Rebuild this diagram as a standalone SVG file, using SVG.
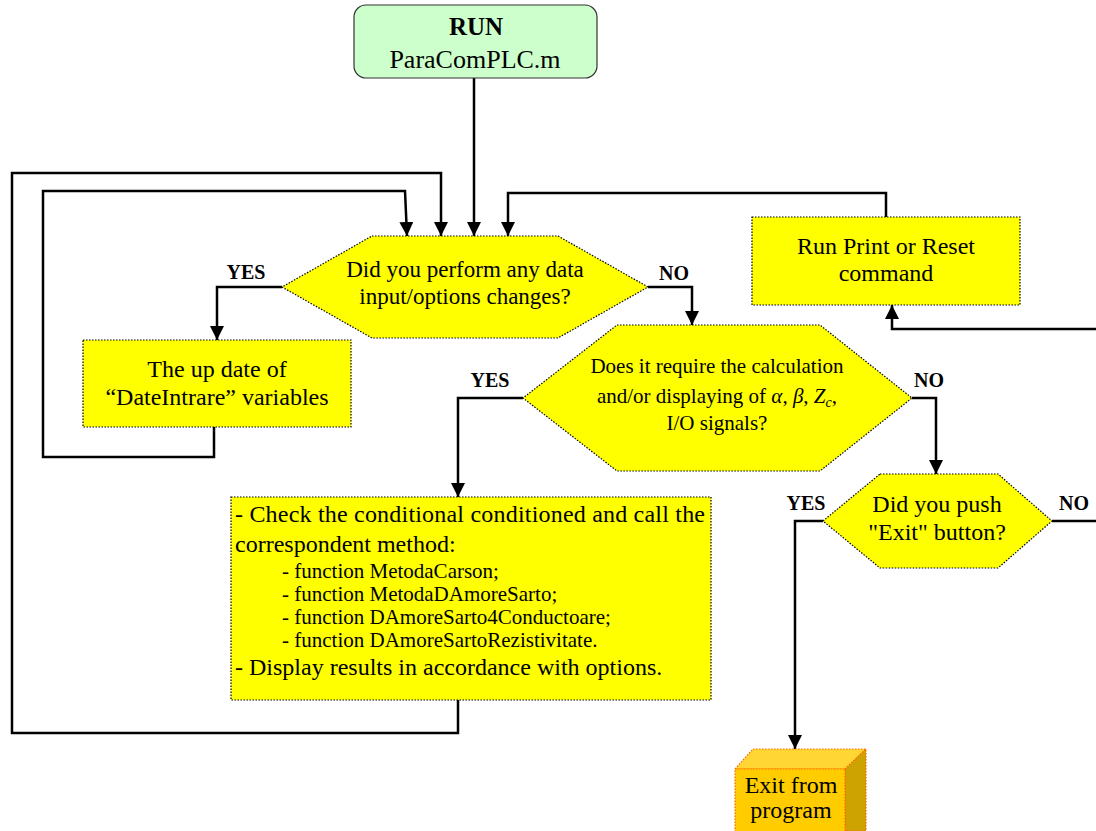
<svg xmlns="http://www.w3.org/2000/svg" width="1096" height="831" viewBox="0 0 1096 831">
<style>
text{font-family:"Liberation Serif","Times New Roman",serif;fill:#000}
.t{font-size:24px;text-anchor:middle}
.t23{font-size:23px;text-anchor:middle}
.t21{font-size:21px;text-anchor:middle}
.s{font-size:21px}
.l{font-size:20px;font-weight:bold;text-anchor:middle}
.y{fill:#FFFF00;stroke:#000;stroke-width:1.2;stroke-dasharray:1.5,1.5}
.c{fill:none;stroke:#000;stroke-width:2.5}
</style>
<defs>
<marker id="ah" viewBox="0 0 14 14" refX="14" refY="7" markerWidth="14" markerHeight="14" orient="auto" markerUnits="userSpaceOnUse"><path d="M0,0 L14,7 L0,14 z" fill="#000"/></marker>
</defs>
<rect width="1096" height="831" fill="#fff"/>
<g id="connectors">
<path class="c" d="M474,78 V236" marker-end="url(#ah)"/>
<path class="c" d="M458,700 V733 H12 V173 H441 V236" marker-end="url(#ah)"/>
<path class="c" d="M214,427 V457 H43 V191 H405 L407,236" marker-end="url(#ah)"/>
<path class="c" d="M886,217 V193 H508 V236" marker-end="url(#ah)"/>
<path class="c" d="M282,287 H217 V340" marker-end="url(#ah)"/>
<path class="c" d="M648,287 H692 V325" marker-end="url(#ah)"/>
<path class="c" d="M523,398 H458 V497" marker-end="url(#ah)"/>
<path class="c" d="M912,398 H936 V474" marker-end="url(#ah)"/>
<path class="c" d="M823,521 H795 V749" marker-end="url(#ah)"/>
<path class="c" d="M1052,521 H1098 V329 H892 V305" marker-end="url(#ah)"/>
<text class="l" x="246" y="279">YES</text>
<text class="l" x="674" y="280">NO</text>
<text class="l" x="490" y="387">YES</text>
<text class="l" x="929" y="387">NO</text>
<text class="l" x="806" y="510">YES</text>
<text class="l" x="1074" y="510">NO</text>
</g>
<g id="run">
<rect x="354" y="5" width="243" height="73" rx="12" fill="#CCFFCC" stroke="#333" stroke-width="1.2"/>
<text x="476" y="35" style="font-size:25px;font-weight:bold;text-anchor:middle">RUN</text>
<text x="475" y="68" style="font-size:26px;text-anchor:middle">ParaComPLC.m</text>
</g>
<g id="dec1">
<polygon class="y" points="372,236 558,236 648,287 558,338 372,338 282,287"/>
<text class="t23" x="465" y="277">Did you perform any data</text>
<text class="t23" x="465" y="304">input/options changes?</text>
</g>
<g id="update">
<rect class="y" x="83" y="340" width="268" height="87"/>
<text class="t" x="217" y="377">The up date of</text>
<text class="t" x="217" y="405">“DateIntrare” variables</text>
</g>
<g id="print">
<rect class="y" x="752" y="217" width="268" height="88"/>
<text class="t" x="886" y="254">Run Print or Reset</text>
<text class="t" x="886" y="281">command</text>
</g>
<g id="dec2">
<polygon class="y" points="617,325 820,325 912,398 820,471 617,471 523,398"/>
<text class="t21" x="717" y="373">Does it require the calculation</text>
<text class="t21" x="717" y="403">and/or displaying of <tspan font-style="italic">α</tspan>, <tspan font-style="italic">β</tspan>, <tspan font-style="italic">Z</tspan><tspan font-style="italic" style="font-size:14px" dy="4">c</tspan><tspan dy="-4">,</tspan></text>
<text class="t21" x="717" y="430">I/O signals?</text>
</g>
<g id="method">
<rect class="y" x="231" y="497" width="480" height="203"/>
<text x="235" y="522" style="font-size:24px" textLength="470" lengthAdjust="spacing">- Check the conditional conditioned and call the</text>
<text x="235" y="552" style="font-size:24px">correspondent method:</text>
<text class="s" x="282" y="578">- function MetodaCarson;</text>
<text class="s" x="282" y="601">- function MetodaDAmoreSarto;</text>
<text class="s" x="282" y="624">- function DAmoreSarto4Conductoare;</text>
<text class="s" x="282" y="647">- function DAmoreSartoRezistivitate.</text>
<text x="235" y="675" style="font-size:24px">- Display results in accordance with options.</text>
</g>
<g id="dec3">
<polygon class="y" points="880,474 998,474 1052,521 998,568 880,568 823,521"/>
<text class="t" x="937" y="512">Did you push</text>
<text class="t" x="937" y="540">"Exit" button?</text>
</g>
<g id="exit">
<polygon points="735,769 753,749 866,749 845,769" fill="#FFD633" stroke="#FF6600" stroke-width="1.2" stroke-dasharray="1.5,1.5"/>
<polygon points="845,769 866,749 866,831 845,831" fill="#CCA300" stroke="#FF6600" stroke-width="1.2" stroke-dasharray="1.5,1.5"/>
<rect x="735" y="769" width="110" height="70" fill="#FFCC00" stroke="#FF6600" stroke-width="1.2" stroke-dasharray="1.5,1.5"/>
<text class="t" x="791" y="793">Exit from</text>
<text class="t" x="791" y="818">program</text>
</g>
</svg>
